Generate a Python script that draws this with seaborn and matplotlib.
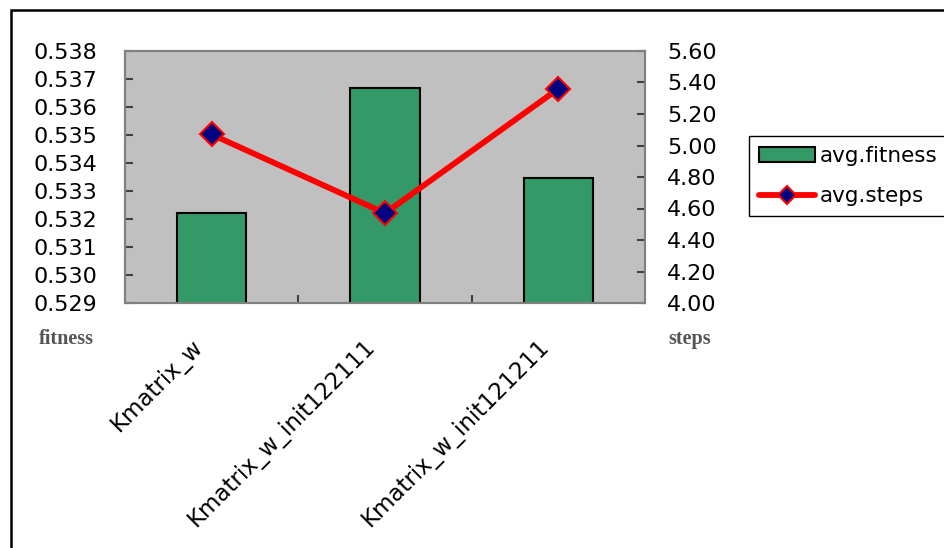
import numpy as np
import pandas as pd
import matplotlib
matplotlib.use("Agg")
import matplotlib.pyplot as plt
from matplotlib.patches import Patch, Rectangle
from matplotlib.lines import Line2D
from matplotlib.transforms import ScaledTranslation
from matplotlib.ticker import FixedLocator, FormatStrFormatter
import seaborn as sns

# Experiment configurations and their averaged results
configs = ["Kmatrix_w", "Kmatrix_w_init122111", "Kmatrix_w_init121211"]
avg_fitness = [0.53223, 0.53668, 0.53348]
avg_steps = [5.07, 4.57, 5.36]

# Axis tick values
fitness_ticks = [0.529, 0.530, 0.531, 0.532, 0.533, 0.534, 0.535, 0.536, 0.537, 0.538]
steps_ticks = [4.00, 4.20, 4.40, 4.60, 4.80, 5.00, 5.20, 5.40, 5.60]

BAR_GREEN = "#339966"
PLOT_GRAY = "#C0C0C0"
FRAME_GRAY = "#808080"
NAVY = "#000080"

sns.set_style("white")
plt.rcParams["font.family"] = ["DejaVu Sans"]
plt.rcParams["text.color"] = "black"
plt.rcParams["xtick.color"] = "black"
plt.rcParams["ytick.color"] = "black"

df = pd.DataFrame({
    "config": configs,
    "avg.fitness": avg_fitness,
    "avg.steps": avg_steps,
    "pos": np.arange(len(configs)),
})

W, H = 944, 548
fig = plt.figure(figsize=(W / 100, H / 100), dpi=100)
ax = fig.add_axes([125 / W, 1 - 303 / H, 520 / W, 252 / H])
ax.set_facecolor(PLOT_GRAY)

sns.barplot(data=df, x="config", y="avg.fitness", ax=ax, color=BAR_GREEN,
            saturation=1, width=0.4, edgecolor="black", linewidth=1.5, zorder=2)
ax.set_ylim(fitness_ticks[0], fitness_ticks[-1])

ax2 = ax.twinx()
sns.lineplot(data=df, x="pos", y="avg.steps", ax=ax2, color="red", linewidth=4.2,
             marker="D", markersize=12, markerfacecolor=NAVY,
             markeredgecolor="red", markeredgewidth=1.5, zorder=3)
ax2.set_ylim(steps_ticks[0], steps_ticks[-1])
ax.set_xlim(-0.5, len(configs) - 0.5)

for a in (ax, ax2):
    a.set_xlabel("")
    a.set_ylabel("")
    a.grid(False)
    for s in a.spines.values():
        s.set_color(FRAME_GRAY)
        s.set_linewidth(1.5)

ax.yaxis.set_major_locator(FixedLocator(fitness_ticks))
ax.yaxis.set_major_formatter(FormatStrFormatter("%.3f"))
ax2.yaxis.set_major_locator(FixedLocator(steps_ticks))
ax2.yaxis.set_major_formatter(FormatStrFormatter("%.2f"))

ax.tick_params(axis="y", left=True, direction="in", length=6, width=1.5,
               color="#404040", pad=20, labelsize=16, labelcolor="black")
ax2.tick_params(axis="y", right=True, direction="in", length=6, width=1.5,
                color="#404040", pad=16, labelsize=16, labelcolor="black")

# Category labels, rotated, with boundary tick marks between categories
ax.set_xticks(np.arange(len(configs)))
ax.set_xticklabels(configs, rotation=45, ha="right", va="top",
                   rotation_mode="anchor", fontsize=16.5, color="black")
ax.set_xticks([0.5, 1.5], minor=True)
ax.tick_params(axis="x", which="major", bottom=True, length=0, pad=0)
ax.tick_params(axis="x", which="minor", bottom=True, direction="in",
               length=6, width=1.5, color="#404040")
shift = ScaledTranslation(-21 / 100, -32 / 100, fig.dpi_scale_trans)
for lbl in ax.get_xticklabels():
    lbl.set_transform(lbl.get_transform() + shift)

# Axis captions under each value axis
fig.text(66 / W, 1 - 344 / H, "fitness", ha="center", va="baseline",
         family="Liberation Serif", weight="bold", size=14.5, color="#555555")
fig.text(690 / W, 1 - 344 / H, "steps", ha="center", va="baseline",
         family="Liberation Serif", weight="bold", size=14.5, color="#555555")

handles = [
    Patch(facecolor=BAR_GREEN, edgecolor="black", linewidth=1.5, label="avg.fitness"),
    Line2D([], [], color="red", linewidth=4.2, marker="D", markersize=9,
           markerfacecolor=NAVY, markeredgecolor="red", markeredgewidth=1.5,
           label="avg.steps"),
]
leg = fig.legend(handles=handles, loc="upper left",
                 bbox_to_anchor=(749 / W, 1 - 136 / H), borderaxespad=0,
                 frameon=True, fancybox=False, edgecolor="black", framealpha=1,
                 fontsize=15.5, handlelength=2.6, handleheight=0.7,
                 handletextpad=0.25, borderpad=0.45, labelspacing=0.95)
leg.get_frame().set_linewidth(1.0)
for t in leg.get_texts():
    t.set_color("black")

# Chart border
fig.patches.append(Rectangle((11 / W, -0.5), 2, 1.5 - 10 / H,
                             transform=fig.transFigure, fill=False,
                             edgecolor="black", linewidth=1.8))

fig.savefig("out.png", dpi=100)
